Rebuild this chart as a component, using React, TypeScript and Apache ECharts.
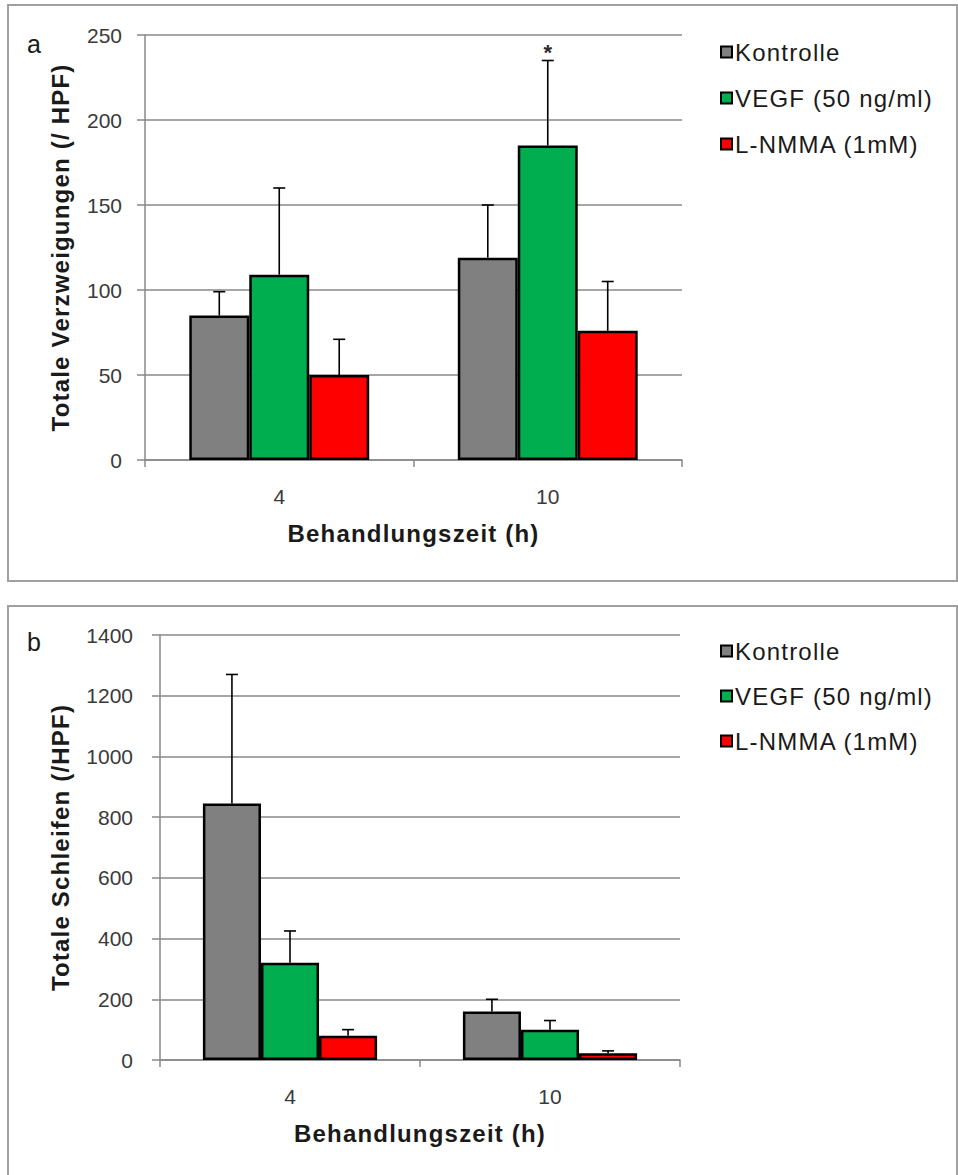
import { useEffect, useRef } from 'react';
import * as echarts from 'echarts';

// Treatment durations (h) and treatment groups
const timepoints = ['4', '10'];
const groups = ['Kontrolle', 'VEGF (50 ng/ml)', 'L-NMMA (1mM)'];
const groupColors = ['#808080', '#00ad4f', '#ff0000'];

// Panel a: total branchings per HPF (mean and mean + SD), per group, per timepoint
const branchMeans = [
  [85, 119],
  [109, 185],
  [50, 76],
];
const branchUpper = [
  [99, 150],
  [160, 235],
  [71, 105],
];
const branchMarks = [
  ['', ''],
  ['', '*'],
  ['', ''],
];

// Panel b: total loops per HPF
const loopMeans = [
  [845, 160],
  [320, 100],
  [80, 22],
];
const loopUpper = [
  [1270, 200],
  [425, 130],
  [100, 30],
];
const loopMarks = [
  ['', ''],
  ['', ''],
  ['', ''],
];

const branchTicks = { min: 0, max: 250, interval: 50 };
const loopTicks = { min: 0, max: 1400, interval: 200 };

// Tick labels use Liberation Sans; titles and legend use Arial (same metrics),
// which lets the stylesheet below widen only those texts.
const FONT = '"Liberation Sans", sans-serif';
const WIDE_FONT = 'Arial, sans-serif';
const GAP = 0.33; // barCategoryGap fraction

function errorSeries(axis: number, si: number, means: number[][], upper: number[][], marks: string[][]) {
  return {
    type: 'custom',
    xAxisIndex: axis,
    yAxisIndex: axis,
    z: 5,
    silent: true,
    data: timepoints.map((_, c) => [c, means[si][c], upper[si][c]]),
    encode: { x: 0, y: [1, 2] },
    renderItem: (params: any, api: any) => {
      const c = api.value(0);
      const base = api.coord([c, api.value(1)]);
      const top = api.coord([c, api.value(2)]);
      const band = api.size([1, 0])[0];
      const used = band * (1 - GAP);
      const bw = used / groups.length;
      const x = base[0] - used / 2 + bw * (si + 0.5);
      const cap = 6;
      const children: any[] = [
        { type: 'line', shape: { x1: x, y1: base[1], x2: x, y2: top[1] }, style: { stroke: '#000', lineWidth: 1.6 } },
        { type: 'line', shape: { x1: x - cap, y1: top[1], x2: x + cap, y2: top[1] }, style: { stroke: '#000', lineWidth: 1.6 } },
      ];
      const m = marks[si][params.dataIndex];
      if (m) {
        children.push({
          type: 'text',
          style: {
            text: m,
            x,
            y: top[1] + 3,
            textAlign: 'center',
            textVerticalAlign: 'bottom',
            fill: '#2a2a2a',
            font: `bold 22px ${FONT}`,
          },
        });
      }
      return { type: 'group', children };
    },
  };
}

function barSeries(axis: number, means: number[][]) {
  return groups.map((g, si) => ({
    name: g,
    type: 'bar',
    xAxisIndex: axis,
    yAxisIndex: axis,
    barGap: '0%',
    barCategoryGap: `${GAP * 100}%`,
    itemStyle: { color: groupColors[si], borderColor: '#000', borderWidth: 2.5 },
    data: means[si],
  }));
}

const axisGray = '#888888';

function xAxis(grid: number) {
  return {
    type: 'category',
    gridIndex: grid,
    data: timepoints,
    name: 'Behandlungszeit (h)',
    nameLocation: 'middle',
    nameGap: 61,
    nameTextStyle: { fontFamily: WIDE_FONT, fontSize: 24, fontWeight: 'bold', color: '#1a1a1a' },
    axisLine: { lineStyle: { color: axisGray, width: 1.5 } },
    axisTick: { show: true, length: 7, lineStyle: { color: axisGray, width: 1.5 } },
    axisLabel: { margin: 26, fontFamily: FONT, fontSize: 21, color: '#3a3a3a' },
    splitLine: { show: false },
  };
}

function yAxis(grid: number, name: string, ticks: any, gap: number, labelMargin: number) {
  return {
    type: 'value',
    gridIndex: grid,
    ...ticks,
    name,
    nameLocation: 'middle',
    nameGap: gap,
    nameRotate: 90,
    nameTextStyle: { fontFamily: WIDE_FONT, fontSize: 24, fontWeight: 'bold', color: '#1a1a1a' },
    axisLine: { show: true, lineStyle: { color: axisGray, width: 1.5 } },
    axisTick: { show: true, length: 8, lineStyle: { color: axisGray, width: 1.5 } },
    axisLabel: {
      margin: labelMargin,
      fontFamily: FONT,
      fontSize: 21,
      color: '#3a3a3a',
      formatter: (v: number) => String(v),
    },
    splitLine: { show: true, lineStyle: { color: axisGray, width: 1.5 } },
  };
}

function legend(top: number, gap: number) {
  return {
    orient: 'vertical',
    left: 715,
    top,
    itemWidth: 11,
    itemHeight: 11,
    itemGap: gap,
    icon: 'rect',
    selectedMode: false,
    itemStyle: { borderColor: '#000', borderWidth: 2 },
    textStyle: { fontFamily: WIDE_FONT, fontSize: 24, color: '#1a1a1a', padding: [0, 0, 0, -2] },
    data: groups,
  };
}

export default function App() {
  const ref = useRef<HTMLDivElement>(null);

  useEffect(() => {
    if (!ref.current) return;
    const chart = echarts.init(ref.current, null, { renderer: 'svg' });
    chart.setOption({
      animation: false,
      backgroundColor: '#ffffff',
      grid: [
        { left: 145, right: 276, top: 35, bottom: 715 },
        { left: 160, right: 278, top: 635, bottom: 115 },
      ],
      xAxis: [xAxis(0), xAxis(1)],
      yAxis: [
        yAxis(0, 'Totale Verzweigungen (/ HPF)', branchTicks, 73, 23),
        yAxis(1, 'Totale Schleifen (/HPF)', loopTicks, 88, 27),
      ],
      legend: [legend(35, 22), legend(634, 21)],
      graphic: [
        { type: 'rect', shape: { x: 8, y: 5, width: 949, height: 576 }, style: { fill: 'none', stroke: '#a0a0a0', lineWidth: 2 }, silent: true },
        { type: 'rect', shape: { x: 8, y: 606, width: 949, height: 600 }, style: { fill: 'none', stroke: '#a0a0a0', lineWidth: 2 }, silent: true },
        { type: 'text', left: 27, top: 31, style: { text: 'a', font: `25px ${FONT}`, fill: '#1a1a1a' } },
        { type: 'text', left: 27, top: 629, style: { text: 'b', font: `25px ${FONT}`, fill: '#1a1a1a' } },
      ],
      series: [
        ...barSeries(0, branchMeans),
        ...barSeries(1, loopMeans),
        ...groups.map((_, si) => errorSeries(0, si, branchMeans, branchUpper, branchMarks)),
        ...groups.map((_, si) => errorSeries(1, si, loopMeans, loopUpper, loopMarks)),
      ],
    });
    return () => chart.dispose();
  }, []);

  return (
    <>
      <style>{`.chart-root text[style*="Arial"] { letter-spacing: 1.2px; }`}</style>
      <div
        ref={ref}
        className="chart-root"
        style={{ position: 'absolute', left: 0, top: 0, width: 958, height: 1175 }}
      />
    </>
  );
}
